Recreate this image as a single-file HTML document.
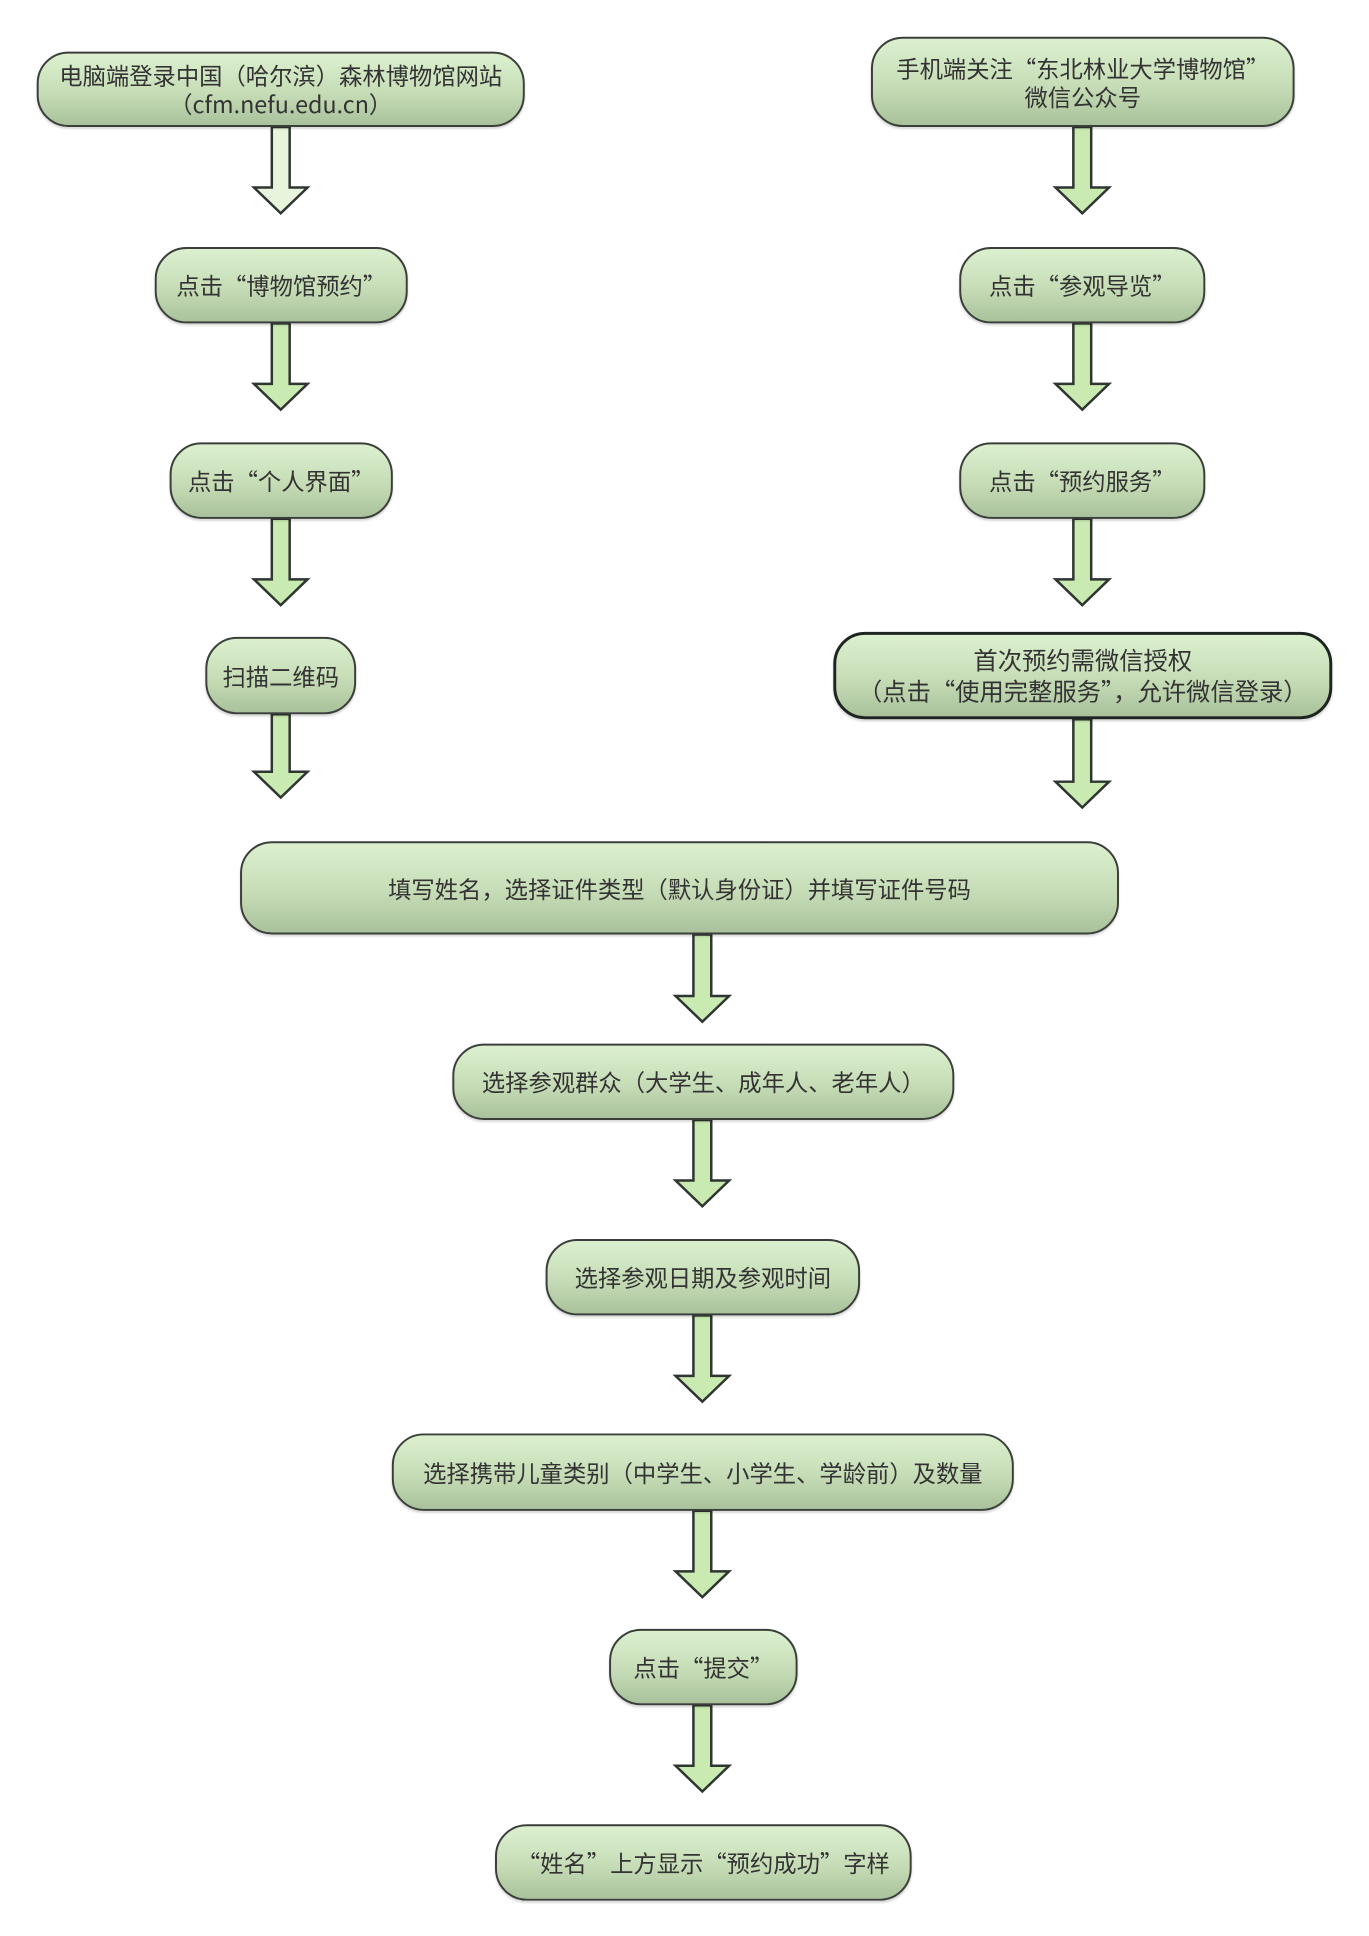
<!DOCTYPE html>
<html><head><meta charset="utf-8"><style>
body{margin:0;width:1369px;height:1936px;background:#fff;position:relative;overflow:hidden;font-family:"Noto Sans CJK SC","Liberation Sans",sans-serif}
#w{position:absolute;left:0;top:0;width:1369px;height:1936px;transform:scale(0.992);transform-origin:0 0}
.b{position:absolute;box-sizing:border-box;border:2.5px solid #3a3f3a;border-radius:32px;background:linear-gradient(#dcf0cf,#c6dcb6 55%,#a9c29b);display:flex;align-items:center;justify-content:center;text-align:center;color:#333;font-size:23.5px;line-height:29px;box-shadow:0 2px 2px rgba(0,0,0,.15);white-space:nowrap}
svg{position:absolute;left:0;top:0}
</style></head><body><div id="w">
<svg width="1369" height="1936">
<g stroke="#2f3530" stroke-width="2.5" fill="#c9ebb1">
<polygon fill="#e6f5dc" points="274,128 292,128 292,189 310,189 283,215 256,189 274,189"/>
<polygon points="274,326 292,326 292,387 310,387 283,413 256,387 274,387"/>
<polygon points="274,523 292,523 292,584 310,584 283,610 256,584 274,584"/>
<polygon points="274,720 292,720 292,778 310,778 283,804 256,778 274,778"/>
<polygon points="1082,128 1100,128 1100,189 1118,189 1091,215 1064,189 1082,189"/>
<polygon points="1082,326 1100,326 1100,387 1118,387 1091,413 1064,387 1082,387"/>
<polygon points="1082,523 1100,523 1100,584 1118,584 1091,610 1064,584 1082,584"/>
<polygon points="1082,725 1100,725 1100,788 1118,788 1091,814 1064,788 1082,788"/>
<polygon points="699,942 717,942 717,1004 735,1004 708,1030 681,1004 699,1004"/>
<polygon points="699,1129 717,1129 717,1190 735,1190 708,1216 681,1190 699,1190"/>
<polygon points="699,1326 717,1326 717,1387 735,1387 708,1413 681,1387 699,1387"/>
<polygon points="699,1523 717,1523 717,1584 735,1584 708,1610 681,1584 699,1584"/>
<polygon points="699,1719 717,1719 717,1780 735,1780 708,1806 681,1780 699,1780"/>
</g></svg>
<div class="b" style="left:37px;top:52px;width:492px;height:76px">电脑端登录中国（哈尔滨）森林博物馆网站<br>（cfm.nefu.edu.cn）</div>
<div class="b" style="left:156px;top:249px;width:255px;height:77px">点击“博物馆预约”</div>
<div class="b" style="left:171px;top:446px;width:225px;height:77px">点击“个人界面”</div>
<div class="b" style="left:207px;top:642px;width:152px;height:78px">扫描二维码</div>
<div class="b" style="left:878px;top:37px;width:427px;height:91px">手机端关注“东北林业大学博物馆”<br>微信公众号</div>
<div class="b" style="left:967px;top:249px;width:248px;height:77px">点击“参观导览”</div>
<div class="b" style="left:967px;top:446px;width:248px;height:77px">点击“预约服务”</div>
<div class="b" style="left:840px;top:637px;width:503px;height:88px;border-width:3px;border-color:#1e241f;font-size:24.5px;line-height:31px">首次预约需微信授权<br>（点击“使用完整服务”，允许微信登录）</div>
<div class="b" style="left:242px;top:848px;width:886px;height:94px">填写姓名，选择证件类型（默认身份证）并填写证件号码</div>
<div class="b" style="left:456px;top:1052px;width:506px;height:77px">选择参观群众（大学生、成年人、老年人）</div>
<div class="b" style="left:550px;top:1249px;width:317px;height:77px">选择参观日期及参观时间</div>
<div class="b" style="left:395px;top:1445px;width:627px;height:78px">选择携带儿童类别（中学生、小学生、学龄前）及数量</div>
<div class="b" style="left:614px;top:1642px;width:190px;height:77px">点击“提交”</div>
<div class="b" style="left:499px;top:1839px;width:420px;height:77px">“姓名”上方显示“预约成功”字样</div>
</div></body></html>
